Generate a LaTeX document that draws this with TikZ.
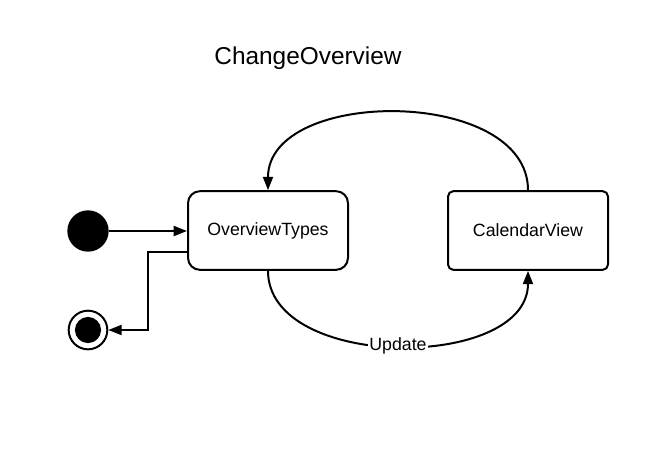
\documentclass[tikz,border=0pt]{standalone}
\usepackage{fontspec}
\setmainfont{Liberation Sans}
\usetikzlibrary{arrows.meta, positioning}

\tikzset{
  state/.style={draw, line width=1.5pt, rounded corners=9pt, minimum width=120pt, minimum height=59pt, font=\fontsize{13.3}{15}\selectfont},
  initst/.style={circle, fill=black, minimum size=31pt, inner sep=0pt},
  finalst/.style={circle, draw, line width=1.5pt, minimum size=29pt, inner sep=0pt},
  trans/.style={line width=1.5pt, -{Triangle[length=10pt, width=7.5pt]}}
}

\begin{document}
\begin{tikzpicture}[x=0.75pt, y=-0.75pt]
  \useasboundingbox (0,0) rectangle (668,451);

  % Title
  \node[font=\fontsize{18.3}{20}\selectfont] (title) at (308,58) {ChangeOverview};

  % States
  \node[state] (over) at (268,230.5) {OverviewTypes};
  \node[state, rounded corners=4pt] (cal) at (528,230.5) {CalendarView};

  % Start and end
  \node[initst] (init) at (88,231) {};
  \node[finalst] (final) at (88,330) {};
  \fill (final.center) circle (9.8pt);
  \coordinate (bend) at (148,330);

  % Transitions
  \draw[trans] (init) -- (over.west |- init);
  \draw[trans] ([yshift=-16pt]over.west) -| (bend) -- (final);
  \draw[trans] (cal.north) .. controls (528,87) and (268,87) .. (over.north);
  \draw[trans] (over.south) .. controls (268,371) and (528,371) .. (cal.south)
    node[pos=0.5, fill=white, inner sep=1pt, font=\fontsize{13.3}{15}\selectfont] (upd) {Update};
\end{tikzpicture}
\end{document}
